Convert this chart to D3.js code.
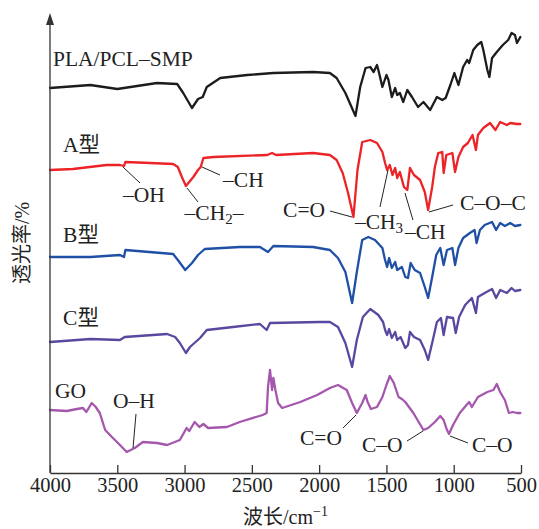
<!DOCTYPE html>
<html>
<head>
<meta charset="utf-8">
<script src="https://cdn.jsdelivr.net/npm/d3@7/dist/d3.min.js"></script>
<style>
	html, body { margin: 0; padding: 0; background: #fff; }
	svg { display: block; }
	text { font-family: "Liberation Serif", "Times New Roman", "Noto Sans CJK SC", serif; fill: #222; }
	.spectrum { fill: none; stroke-width: 2.3; stroke-linejoin: round; stroke-linecap: round; }
	.leader { stroke: #222; stroke-width: 1; }
</style>
</head>
<body>
<svg id="chart" width="539" height="529"></svg>
<script>
'use strict';

// [wavenumber cm-1, transmittance (stacked, arbitrary %)]
var smpValues = [
	[4000, 96.25], [3700, 97], [3500, 96], [3205, 97.5], [3055, 97.25], [3010, 95],
	[2945, 91.25], [2900, 93.5], [2865, 94], [2835, 96.5], [2735, 98.75], [2535, 99.5],
	[2340, 100], [2045, 100.25], [1920, 100], [1870, 98.75], [1805, 95], [1730, 89.25],
	[1695, 96.5], [1655, 101.25], [1620, 101.5], [1595, 100.25], [1570, 102], [1560, 100.75],
	[1530, 96.5], [1500, 99.5], [1485, 98.25], [1460, 94], [1435, 96.25], [1420, 94.5],
	[1400, 95], [1375, 92.75], [1345, 95.75], [1310, 94], [1265, 91.5], [1225, 92.75],
	[1175, 90.75], [1125, 94], [1085, 93.25], [1060, 93.75], [1025, 97], [995, 100],
	[965, 97], [930, 101.5], [900, 103.25], [885, 102.5], [855, 105.75], [825, 107],
	[795, 107.75], [780, 105.75], [750, 100.75], [735, 99], [715, 103.75], [680, 105.25],
	[635, 107], [595, 108.25], [570, 110], [545, 109.5], [530, 107.5], [505, 109]
];

var typeAValues = [
	[4000, 75.75], [3830, 76], [3580, 77], [3480, 77], [3450, 76.75], [3440, 77.75],
	[3255, 77.5], [3085, 77.25], [3050, 76.5], [3020, 74], [2990, 71.75], [2935, 74],
	[2900, 75.75], [2880, 76.5], [2860, 78.75], [2785, 79], [2385, 79.5], [2350, 80],
	[2320, 79.5], [2045, 80], [1920, 79.5], [1870, 78.25], [1825, 75], [1785, 70],
	[1745, 64], [1715, 75.75], [1680, 82.75], [1620, 83.25], [1570, 82.5], [1530, 80.25],
	[1510, 77.5], [1495, 75.75], [1475, 77], [1455, 74.5], [1435, 76.25], [1420, 73.75],
	[1400, 75.25], [1370, 71.5], [1345, 70.75], [1325, 76.25], [1295, 74.5], [1250, 73.25],
	[1215, 70.25], [1190, 65.75], [1160, 71.5], [1140, 76.5], [1115, 80], [1085, 80.25],
	[1075, 75], [1055, 79.5], [1010, 80], [990, 75.25], [965, 79], [930, 81.5],
	[895, 82.5], [860, 84.5], [835, 80.75], [820, 84.5], [780, 86.25], [730, 87.5],
	[690, 85.75], [655, 87.75], [605, 87], [580, 87.5], [530, 87.25], [505, 87.25]
];

var typeBValues = [
	[4000, 54], [3700, 54], [3480, 54.5], [3450, 54], [3440, 55.75], [3085, 54.75],
	[3050, 53.25], [2995, 50.75], [2945, 52.5], [2900, 54.5], [2850, 56], [2590, 56.5],
	[2440, 56.5], [2380, 55.25], [2340, 56.75], [2045, 56.5], [1920, 55.75], [1860, 53.75],
	[1805, 50.25], [1755, 42.5], [1720, 50.25], [1680, 58.25], [1635, 59], [1585, 58.25],
	[1530, 56.25], [1510, 53.25], [1495, 51.5], [1480, 53.75], [1460, 51.25], [1435, 52.75],
	[1420, 50.75], [1385, 51.5], [1360, 49], [1340, 48.75], [1320, 52.5], [1290, 50.75],
	[1250, 50], [1215, 46.5], [1190, 43.75], [1160, 49], [1130, 54.5], [1100, 56.25],
	[1075, 52], [1050, 55.75], [1010, 56.25], [990, 52], [965, 56.25], [930, 58.75],
	[880, 60], [845, 60.75], [830, 57.5], [805, 60.75], [770, 62], [715, 62.75],
	[685, 60.75], [655, 62.5], [620, 61.75], [580, 62.5], [545, 61.75], [505, 62]
];

var typeCValues = [
	[4000, 32.75], [3700, 33.5], [3480, 33.25], [3445, 34], [3130, 34.75], [3070, 34],
	[3035, 32.5], [2990, 30], [2960, 31.5], [2885, 33.75], [2835, 35.75], [2640, 36.5],
	[2440, 37.25], [2390, 35.75], [2365, 37.5], [1995, 37.75], [1920, 37.75], [1860, 36.5],
	[1805, 32.5], [1755, 26.5], [1720, 33.25], [1675, 39], [1620, 41], [1560, 39.5],
	[1525, 37.75], [1510, 35.75], [1495, 34.5], [1480, 36], [1460, 33.75], [1435, 35.25],
	[1420, 33.25], [1395, 34], [1360, 31.25], [1340, 32], [1325, 35.25], [1295, 34],
	[1250, 33.25], [1215, 30.75], [1190, 28.25], [1155, 33.25], [1125, 37.75], [1095, 38.75],
	[1075, 34.5], [1050, 39], [1005, 38.75], [985, 35], [960, 39], [915, 42],
	[865, 43.75], [835, 40], [820, 44], [770, 45], [715, 46], [685, 43.75],
	[655, 45.75], [605, 45], [570, 46.25], [545, 45.5], [505, 45.75]
];

var goValues = [
	[4000, 15.75], [3875, 15.5], [3800, 16], [3755, 16.25], [3730, 15.25], [3690, 17.5],
	[3660, 16.5], [3630, 15], [3590, 10.75], [3540, 9], [3480, 7], [3430, 5.25],
	[3370, 6.25], [3310, 7.75], [3205, 7.5], [3130, 7], [3035, 8.25], [2985, 11.25],
	[2965, 10.5], [2925, 12.75], [2890, 11.5], [2860, 12.25], [2825, 11.25], [2685, 11.5],
	[2590, 12.75], [2420, 14.5], [2390, 15], [2380, 21.5], [2365, 25.75], [2350, 20.75],
	[2340, 23.75], [2325, 20.75], [2305, 17.5], [2275, 16.25], [2140, 17.75], [2015, 19.5],
	[1920, 21.25], [1860, 22], [1795, 20.75], [1755, 17.5], [1720, 15], [1680, 17.5],
	[1655, 19.5], [1640, 17.75], [1615, 16], [1570, 16.5], [1530, 19], [1500, 22],
	[1475, 24.25], [1445, 22.5], [1410, 19], [1385, 18.5], [1360, 17.75], [1300, 15],
	[1225, 10.75], [1190, 11.25], [1140, 12.75], [1100, 14.25], [1075, 13.25], [1050, 10.75],
	[1035, 9.75], [1005, 12], [955, 15], [905, 17], [885, 17.75], [865, 16.5],
	[820, 19], [750, 20.25], [705, 20.75], [680, 22.25], [655, 20.25], [620, 18.25],
	[590, 15], [560, 15.25], [530, 15], [505, 15]
];

var seriesNames = ['PLA/PCL–SMP', 'A型', 'B型', 'C型', 'GO'];
var seriesColors = ['#1c1c1c', '#ec2327', '#1f50a6', '#5a479f', '#a557ad'];
var seriesValues = [smpValues, typeAValues, typeBValues, typeCValues, goValues];
// where each name sits: [wavenumber, transmittance]
var seriesLabelAt = [[3978, 101.75], [3903, 80.25], [3903, 57.75], [3903, 37], [3963, 18.75]];

var xTicks = [4000, 3500, 3000, 2500, 2000, 1500, 1000, 500];

// peak assignments: text, sub/tail, text anchor point, leader from/to
var annotations = [
	{ text: '–OH', at: [3458, 67.75], from: [3458, 76.5], to: [3331, 72.5] },
	{ text: '–CH', sub: '2', tail: '–', at: [3000, 63.25], from: [2982, 71.25], to: [2900, 67.75] },
	{ text: '–CH', at: [2714, 71.5], from: [2870, 76.5], to: [2737, 74.5] },
	{ text: 'C=O', at: [1956, 64], anchor: 'end', from: [1919, 65.5], to: [1756, 64] },
	{ text: '–CH', sub: '3', at: [1734, 61], from: [1488, 75.75], to: [1548, 66.5] },
	{ text: '–CH', at: [1362, 58.5], from: [1362, 70], to: [1303, 63.25] },
	{ text: 'C–O–C', at: [953, 65.75], from: [1184, 65.25], to: [1005, 67] },
	{ text: 'O–H', at: [3532, 16.25], from: [3361, 14.75], to: [3383, 6.25] },
	{ text: 'C=O', at: [2142, 7], from: [1823, 11.25], to: [1726, 14.5] },
	{ text: 'C–O', at: [1682, 5.25], from: [1347, 8], to: [1228, 10.5] },
	{ text: 'C–O', at: [864, 5.25], from: [1028, 9.25], to: [894, 7.5] }
];

var margin = { left: 50, right: 18, top: 13, bottom: 56 };
var width = 539, height = 529;

var svg = d3.select('#chart');

var x = d3.scaleLinear()
	.domain([4000, 500])
	.range([margin.left, width - margin.right]);

var y = d3.scaleLinear()
	.domain([0, 115])
	.range([height - margin.bottom, margin.top]);

var line = d3.line()
	.x(function(d) { return x(d[0]); })
	.y(function(d) { return y(d[1]); });

// spectra
svg.append('g')
	.selectAll('path')
	.data(seriesValues)
	.enter()
	.append('path')
	.attr('class', 'spectrum')
	.attr('stroke', function(d, i) { return seriesColors[i]; })
	.attr('d', line);

// series names
svg.append('g')
	.selectAll('text')
	.data(seriesNames)
	.enter()
	.append('text')
	.attr('x', function(d, i) { return x(seriesLabelAt[i][0]); })
	.attr('y', function(d, i) { return y(seriesLabelAt[i][1]); })
	.style('font-size', '21.5px')
	.text(function(d) { return d; });

// annotations
var ann = svg.append('g');
ann.selectAll('line')
	.data(annotations)
	.enter()
	.append('line')
	.attr('class', 'leader')
	.attr('x1', function(d) { return x(d.from[0]); })
	.attr('y1', function(d) { return y(d.from[1]); })
	.attr('x2', function(d) { return x(d.to[0]); })
	.attr('y2', function(d) { return y(d.to[1]); });

var annText = ann.selectAll('text')
	.data(annotations)
	.enter()
	.append('text')
	.attr('x', function(d) { return x(d.at[0]); })
	.attr('y', function(d) { return y(d.at[1]); })
	.attr('text-anchor', function(d) { return d.anchor || 'start'; })
	.style('font-size', '21.5px');

annText.append('tspan').text(function(d) { return d.text; });
annText.filter(function(d) { return d.sub; })
	.append('tspan')
	.attr('dy', 4)
	.style('font-size', '15px')
	.text(function(d) { return d.sub; });
annText.filter(function(d) { return d.tail; })
	.append('tspan')
	.attr('dy', -4)
	.text(function(d) { return d.tail; });

// x axis, ticks pointing inward
var xAxis = d3.axisBottom(x)
	.tickValues(xTicks)
	.tickSizeInner(-8)
	.tickSizeOuter(0)
	.tickPadding(4)
	.tickFormat(d3.format('d'));

var gx = svg.append('g')
	.attr('transform', 'translate(0,' + y(0) + ')')
	.call(xAxis);
gx.select('.domain').attr('stroke', '#333').attr('stroke-width', 1.3);
gx.selectAll('.tick line').attr('stroke', '#333').attr('stroke-width', 1.3);
gx.selectAll('.tick text')
	.style('font-family', '"Liberation Serif", serif')
	.style('font-size', '20.5px')
	.attr('fill', '#222');

// y axis with arrow head
svg.append('line')
	.attr('x1', x(4000)).attr('x2', x(4000))
	.attr('y1', y(0)).attr('y2', y(115) + 6)
	.attr('stroke', '#333')
	.attr('stroke-width', 1.3);
svg.append('path')
	.attr('d', d3.line()([[x(4000) - 4, y(115) + 12], [x(4000), y(115)], [x(4000) + 4, y(115) + 12]]) + 'Z')
	.attr('fill', '#333');

// axis titles
var xTitle = svg.append('text')
	.attr('x', (x(4000) + x(500)) / 2)
	.attr('y', height - 5)
	.attr('text-anchor', 'middle')
	.style('font-size', '20px');
xTitle.append('tspan').text('波长/cm');
xTitle.append('tspan').attr('dy', -8).style('font-size', '14px').text('−1');

svg.append('text')
	.attr('transform', 'translate(29,' + ((y(0) + y(115)) / 2) + ') rotate(-90)')
	.attr('text-anchor', 'middle')
	.style('font-size', '20px')
	.text('透光率/%');
</script>
</body>
</html>
